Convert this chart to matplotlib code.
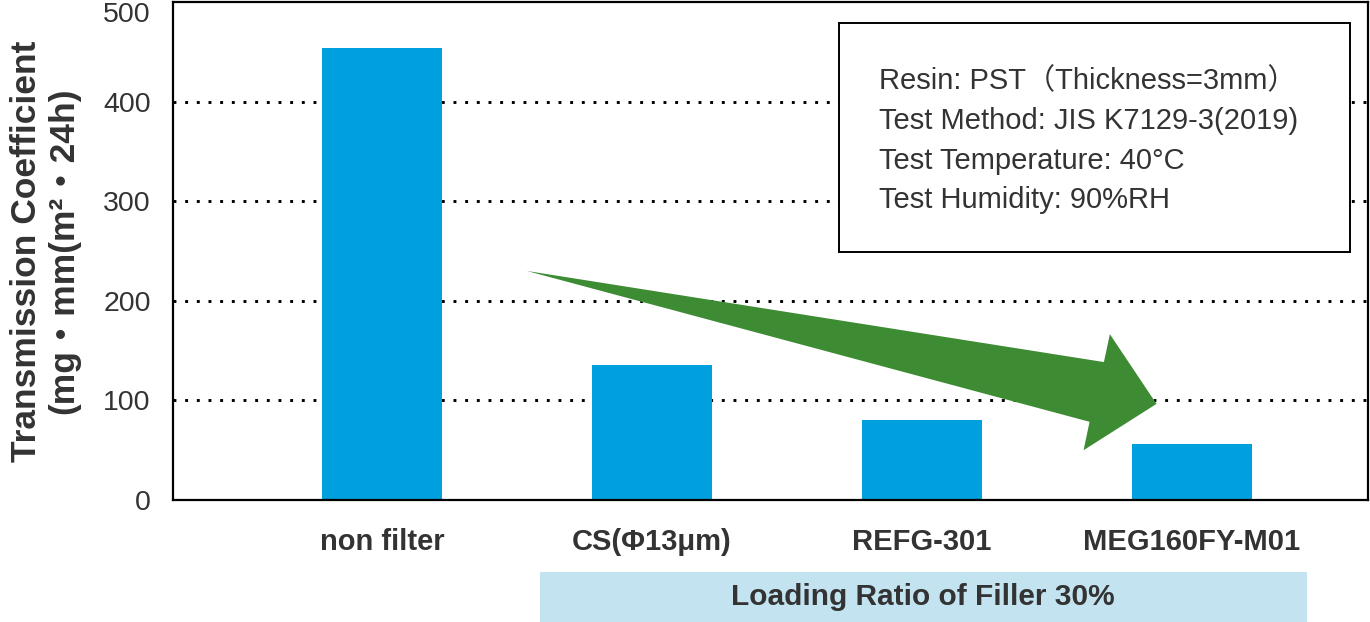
import matplotlib.pyplot as plt
from matplotlib.patches import Polygon, Rectangle

# data
categories = ["non filter", "CS(Φ13μm)", "REFG-301", "MEG160FY-M01"]
values = [454, 136, 80, 56]
yticks = [0, 100, 200, 300, 400, 500]
conditions = ["Resin: PST（Thickness=3mm）",
              "Test Method: JIS K7129-3(2019)",
              "Test Temperature: 40°C",
              "Test Humidity: 90%RH"]
band_label = "Loading Ratio of Filler 30%"

FONT = ['Liberation Sans', 'Noto Sans CJK JP', 'DejaVu Sans']
plt.rcParams['font.family'] = FONT
TXT = '#333333'

fig = plt.figure(figsize=(13.7, 6.22), dpi=100)
ax = fig.add_axes([173/1370, 122/622, 1195/1370, 498/622])

x = range(len(categories))
ax.bar(x, values, width=0.444, color='#009fde', zorder=2)
ax.set_xlim(-0.774, 3.652)
ax.set_ylim(0, 500)

# dotted grid lines
for t in yticks[1:-1]:
    ax.axhline(t, color='black', lw=2.1, linestyle=(0, (1, 3)),
               dash_capstyle='butt', zorder=1)

ax.set_yticks(yticks)
ax.set_yticklabels([str(t) for t in yticks], fontsize=20.5, color=TXT)
ax.get_yticklabels()[-1].set_va('top')
ax.set_xticks(list(x))
ax.set_xticklabels(categories, fontsize=21, fontweight='bold', color=TXT)
ax.tick_params(axis='y', length=0, pad=16)
ax.tick_params(axis='x', length=0, pad=20)
for s in ax.spines.values():
    s.set_linewidth(1.6)
    s.set_color('black')

# condition box
ax.add_patch(Rectangle((0.557, 0.498), 0.428, 0.46, transform=ax.transAxes,
                       facecolor='white', edgecolor='black', lw=1.4, zorder=3))
for i, line in enumerate(conditions):
    ax.text(0.591, 0.84 - i * 0.0795, line, transform=ax.transAxes,
            fontsize=21, color=TXT, va='center', ha='left', zorder=4)

# green trend arrow (axes fraction)
arrow_pts = [(0.296, 0.460), (0.779, 0.277), (0.784, 0.333),
             (0.823, 0.193), (0.762, 0.100), (0.767, 0.157)]
ax.add_patch(Polygon(arrow_pts, closed=True, transform=ax.transAxes,
                     facecolor='#3d8c34', edgecolor='none', zorder=5))

# y label
fig.text(45/1370, (622 - 251)/622, "Transmission Coefficient\n(mg・mm(m²・24h)",
         rotation=90, ha='center', va='center', fontsize=25.5,
         fontweight='bold', color=TXT, linespacing=1.15)

# bottom band
fig.patches.append(Rectangle((540/1370, 0), 767/1370, 50/622,
                             transform=fig.transFigure, facecolor='#c2e3ef',
                             edgecolor='none'))
fig.text(923/1370, 25/622, band_label, ha='center', va='center',
         fontsize=21.5, fontweight='bold', color=TXT)

fig.savefig('out.png', dpi=100)
